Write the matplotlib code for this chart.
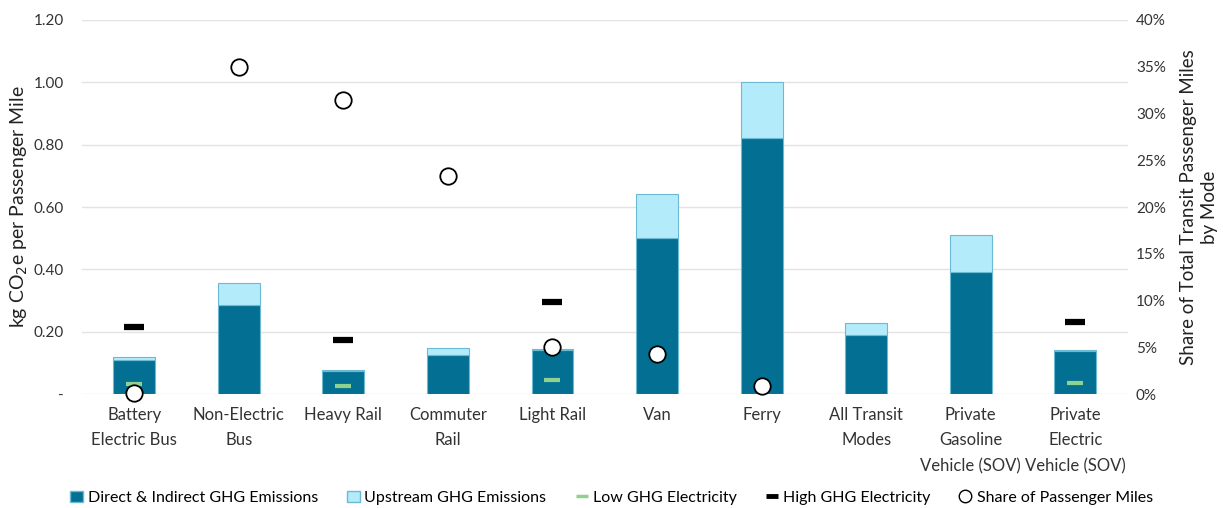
import matplotlib.pyplot as plt
import matplotlib.ticker as mticker
from matplotlib.lines import Line2D
from matplotlib.patches import Patch
import numpy as np

plt.rcParams['font.family'] = ['Lato', 'DejaVu Sans']

# datos
modes = ["Battery\nElectric Bus", "Non-Electric\nBus", "Heavy Rail", "Commuter\nRail",
         "Light Rail", "Van", "Ferry", "All Transit\nModes",
         "Private\nGasoline\nVehicle (SOV)", "Private\nElectric\nVehicle (SOV)"]
direct = [0.111, 0.286, 0.073, 0.127, 0.141, 0.501, 0.822, 0.189, 0.392, 0.138]
upstream = [0.007, 0.071, 0.003, 0.020, 0.003, 0.141, 0.179, 0.038, 0.117, 0.005]
low_ghg = [0.033, None, 0.026, None, 0.045, None, None, None, None, 0.035]
high_ghg = [0.215, None, 0.175, None, 0.295, None, None, None, None, 0.230]
share = [0.001, 0.350, 0.314, 0.233, 0.050, 0.0425, 0.009, None, None, None]

DARK = "#036f93"
LIGHT = "#b3ebfb"
EDGE = "#6bb9d3"
GREEN = "#8fd18f"

fig = plt.figure(figsize=(12.23, 5.08), dpi=100)
ax = fig.add_axes([0.067, 0.224, 0.855, 0.737])
ax2 = ax.twinx()

x = np.arange(len(modes))
ax.bar(x, direct, width=0.4, color=DARK, edgecolor=EDGE, linewidth=0.8, zorder=2)
ax.bar(x, upstream, width=0.4, bottom=direct, color=LIGHT, edgecolor=EDGE, linewidth=0.8, zorder=2)

for i in range(len(modes)):
    if low_ghg[i] is not None:
        ax.plot(x[i], low_ghg[i], marker='_', ms=12, mew=3, color=GREEN, zorder=3)
    if high_ghg[i] is not None:
        ax.plot(x[i], high_ghg[i], marker='_', ms=15, mew=4.5, color='black', zorder=3)

sx = [x[i] for i in range(len(modes)) if share[i] is not None]
sy = [share[i] for i in range(len(modes)) if share[i] is not None]
ax2.scatter(sx, sy, s=140, facecolor='white', edgecolor='black', linewidth=1.3, zorder=4, clip_on=False)

ax.set_xlim(-0.5, len(modes) - 0.5)
ax.set_ylim(0, 1.2)
ax2.set_ylim(0, 0.4)
ax.set_yticks(np.arange(0, 1.21, 0.2))
ax.yaxis.set_major_formatter(mticker.FuncFormatter(lambda v, p: "-" if abs(v) < 1e-9 else f"{v:.2f}"))
ax2.set_yticks(np.arange(0, 0.41, 0.05))
ax2.yaxis.set_major_formatter(mticker.FuncFormatter(lambda v, p: f"{v*100:.0f}%"))
ax.set_xticks(x)
ax.set_xticklabels(modes, fontsize=12, color="#222222", va='top', linespacing=1.75)

for a in (ax, ax2):
    for s in a.spines.values():
        s.set_visible(False)
    a.tick_params(length=0, labelsize=11, colors="#333333")
ax.tick_params(axis='x', pad=9, labelsize=12)
ax.tick_params(axis='y', pad=13)
ax2.tick_params(axis='y', pad=6)
ax.grid(axis='y', color="#e3e3e3", linewidth=1, zorder=0)
ax.set_axisbelow(True)

ax.set_ylabel("kg CO$_2$e per Passenger Mile", fontsize=14, color="#222222")
ax.yaxis.set_label_coords(-0.05, 0.5)
ax2.set_ylabel("Share of Total Transit Passenger Miles\nby Mode", fontsize=13.5, color="#222222",
               labelpad=10, linespacing=1.3)

handles = [
    Patch(facecolor=DARK, edgecolor=EDGE, label="Direct & Indirect GHG Emissions"),
    Patch(facecolor=LIGHT, edgecolor=EDGE, label="Upstream GHG Emissions"),
    Line2D([], [], marker='_', ms=9, mew=2.5, color=GREEN, ls='none', label="Low GHG Electricity"),
    Line2D([], [], marker='_', ms=9, mew=3.5, color='black', ls='none', label="High GHG Electricity"),
    Line2D([], [], marker='o', ms=9, mfc='white', mec='black', ls='none', label="Share of Passenger Miles"),
]
fig.legend(handles=handles, loc='center', bbox_to_anchor=(0.5, 0.02), ncol=5, frameon=False,
           fontsize=11.5, handlelength=0.8, handletextpad=0.3, columnspacing=1.8)

fig.savefig("out.png", dpi=100)
